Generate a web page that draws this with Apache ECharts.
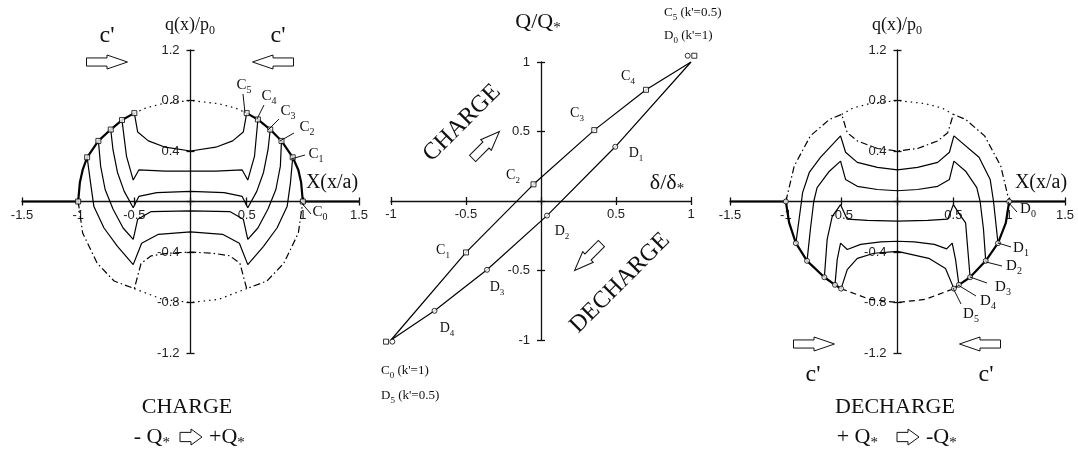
<!DOCTYPE html>
<html>
<head>
<meta charset="utf-8">
<script src="https://cdn.jsdelivr.net/npm/echarts@6/dist/echarts.min.js"></script>
<style>
  html, body { margin: 0; padding: 0; background: #fff; }
  #chart { width: 1078px; height: 455px; }
</style>
</head>
<body>
<div id="chart"></div>
<script>
// ===== 左图 CHARGE : q(x)/p0 - x/a =====
const xTicksWide = [-1.5, 1.5, 0.5];
const yTicksQ = [-1.2, 1.2, 0.4];

const chargeEnvLeft = [[-1.5, 0], [-1, 0], [-0.985, 0.15], [-0.96, 0.25], [-0.92, 0.35], [-0.82, 0.48], [-0.71, 0.57], [-0.61, 0.645], [-0.5, 0.70]];
const chargeEnvRight = [[1.5, 0], [1, 0], [0.985, 0.15], [0.96, 0.25], [0.91, 0.35], [0.81, 0.48], [0.71, 0.57], [0.6, 0.65], [0.5, 0.70]];
const chargeMarks = [[-1, 0], [-0.92, 0.35], [-0.82, 0.48], [-0.71, 0.57], [-0.61, 0.645], [-0.5, 0.70],
  [1, 0], [0.91, 0.35], [0.81, 0.48], [0.71, 0.57], [0.6, 0.65], [0.5, 0.70]];
const chargeTopDotted = [[-0.5, 0.70], [-0.4, 0.74], [-0.25, 0.775], [0, 0.8], [0.25, 0.775], [0.4, 0.74], [0.5, 0.70]];
const chargeBottomDotted = [[-0.5, -0.69], [-0.25, -0.775], [0, -0.8], [0.25, -0.775], [0.5, -0.69]];
const curveC5 = [[-0.5, 0.70], [-0.47, 0.55], [-0.375, 0.48], [-0.225, 0.43], [0, 0.40], [0.225, 0.43], [0.375, 0.48], [0.47, 0.55], [0.5, 0.70]];
const curveC4 = [[-0.61, 0.645], [-0.57, 0.36], [-0.51, 0.17], [-0.46, 0.25], [-0.225, 0.24], [0, 0.24], [0.225, 0.24], [0.46, 0.25], [0.51, 0.17], [0.57, 0.36], [0.6, 0.65]];
const curveC3 = [[-0.71, 0.57], [-0.69, 0.41], [-0.65, 0.23], [-0.59, 0.08], [-0.51, -0.05], [-0.46, 0.04], [-0.3, 0.07], [0, 0.08],
  [0.3, 0.07], [0.46, 0.04], [0.51, -0.05], [0.59, 0.08], [0.65, 0.23], [0.69, 0.41], [0.71, 0.57]];
const curveC2 = [[-0.82, 0.48], [-0.80, 0.28], [-0.76, 0.095], [-0.69, -0.06], [-0.60, -0.21], [-0.51, -0.30], [-0.47, -0.14], [-0.35, -0.08], [0, -0.075],
  [0.35, -0.08], [0.47, -0.14], [0.51, -0.30], [0.60, -0.21], [0.69, -0.06], [0.76, 0.095], [0.80, 0.28], [0.81, 0.48]];
const curveC1 = [[-0.92, 0.35], [-0.89, 0.15], [-0.86, -0.04], [-0.77, -0.21], [-0.65, -0.355], [-0.51, -0.50], [-0.435, -0.33], [-0.285, -0.26], [0, -0.24],
  [0.285, -0.26], [0.435, -0.33], [0.51, -0.50], [0.65, -0.355], [0.77, -0.21], [0.86, -0.04], [0.89, 0.15], [0.91, 0.35]];
const curveC0 = [[-1, 0], [-0.96, -0.25], [-0.83, -0.49], [-0.68, -0.63], [-0.5, -0.69], [-0.44, -0.49], [-0.35, -0.43], [-0.2, -0.41], [0, -0.40],
  [0.2, -0.41], [0.35, -0.43], [0.44, -0.49], [0.5, -0.69], [0.68, -0.63], [0.83, -0.49], [0.96, -0.25], [1, 0]];

// ===== 中图 Q/Q* - δ/δ* =====
const xTicksMid = [-1, 1, 0.5];
const yTicksMid = [-1, 1, 0.5];
const loopCharge = [[-1, -1], [-0.5, -0.37], [-0.05, 0.12], [0.355, 0.51], [0.70, 0.80], [1, 1]];
const loopChargeMarks = [[-0.5, -0.37], [-0.05, 0.12], [0.355, 0.51], [0.70, 0.80], [1.022, 1.045], [-1.033, -1.012]];
const loopDecharge = [[1, 1], [0.495, 0.39], [0.04, -0.105], [-0.36, -0.495], [-0.71, -0.79], [-1, -1]];
const loopDechargeMarks = [[0.495, 0.39], [0.04, -0.105], [-0.36, -0.495], [-0.71, -0.79], [0.978, 1.045], [-0.991, -1.012]];

// ===== 右图 DECHARGE =====
const dechEnvLeft = [[-1.5, 0], [-1, 0], [-0.97, -0.17], [-0.91, -0.33], [-0.81, -0.47], [-0.655, -0.60], [-0.56, -0.66], [-0.505, -0.69]];
const dechEnvRight = [[1.5, 0], [1, 0], [0.97, -0.17], [0.90, -0.33], [0.79, -0.47], [0.65, -0.60], [0.55, -0.66], [0.505, -0.69]];
const dechMarks = [[-1, 0], [-0.91, -0.33], [-0.81, -0.47], [-0.655, -0.60], [-0.56, -0.66], [-0.505, -0.69],
  [1, 0], [0.90, -0.33], [0.79, -0.47], [0.65, -0.60], [0.55, -0.66], [0.505, -0.69]];
const dechTopDotted = [[-0.5, 0.69], [-0.4, 0.74], [-0.25, 0.775], [0, 0.8], [0.25, 0.775], [0.4, 0.74], [0.5, 0.69]];
const dechBottomDashed = [[-0.505, -0.69], [-0.25, -0.775], [0, -0.8], [0.25, -0.775], [0.505, -0.69]];
const curveD0 = [[-1, 0], [-0.925, 0.28], [-0.78, 0.52], [-0.61, 0.65], [-0.5, 0.69], [-0.45, 0.545], [-0.36, 0.48], [-0.18, 0.42], [0, 0.40],
  [0.18, 0.42], [0.36, 0.48], [0.45, 0.545], [0.5, 0.69], [0.61, 0.65], [0.78, 0.52], [0.925, 0.28], [1, 0]];
const curveD1 = [[-0.91, -0.33], [-0.86, 0], [-0.85, 0.07], [-0.79, 0.23], [-0.69, 0.35], [-0.51, 0.52], [-0.465, 0.39], [-0.36, 0.31], [-0.18, 0.27], [0, 0.25],
  [0.18, 0.27], [0.36, 0.31], [0.465, 0.39], [0.505, 0.52], [0.73, 0.35], [0.83, 0.175], [0.86, 0], [0.90, -0.33]];
const curveD2 = [[-0.81, -0.47], [-0.78, -0.22], [-0.75, 0], [-0.72, 0.11], [-0.61, 0.24], [-0.51, 0.32], [-0.465, 0.175], [-0.36, 0.12], [-0.18, 0.095], [0, 0.085],
  [0.18, 0.095], [0.36, 0.12], [0.465, 0.175], [0.505, 0.32], [0.61, 0.24], [0.71, 0.11], [0.74, 0], [0.77, -0.22], [0.79, -0.47]];
const curveD3 = [[-0.655, -0.60], [-0.63, -0.30], [-0.585, -0.12], [-0.51, -0.025], [-0.45, -0.14], [-0.27, -0.15], [0, -0.155],
  [0.27, -0.15], [0.45, -0.14], [0.5, -0.025], [0.57, -0.12], [0.61, -0.17], [0.65, -0.60]];
const curveD4 = [[-0.56, -0.66], [-0.54, -0.46], [-0.51, -0.33], [-0.45, -0.38], [-0.33, -0.34], [-0.15, -0.32], [0, -0.315],
  [0.15, -0.32], [0.33, -0.34], [0.44, -0.375], [0.49, -0.33], [0.52, -0.46], [0.55, -0.66]];
const curveD5 = [[-0.505, -0.69], [-0.45, -0.54], [-0.36, -0.45], [-0.21, -0.41], [0, -0.395], [0.28, -0.45], [0.43, -0.53], [0.505, -0.69]];

const SERIF = '"Liberation Serif", "DejaVu Serif", serif';
const SANS = '"Liberation Sans", Arial, sans-serif';
const INK = '#111';

// 三个坐标系的像素框
const grids = [
  { left: 22, top: 50, width: 337, height: 303 },
  { left: 391, top: 62, width: 300, height: 278 },
  { left: 730, top: 50, width: 335, height: 303 }
];
const gridTicks = [[xTicksWide, yTicksQ], [xTicksMid, yTicksMid], [xTicksWide, yTicksQ]];

const chart = echarts.init(document.getElementById('chart'), null, { renderer: 'canvas' });

// 轴线移到 0 处：用 offset（负值向图内移），一根带标签+外刻度，一根只画内刻度
const hideZero = v => (Math.abs(v) < 1e-9 ? '' : String(+v.toFixed(2)));
function axisPair(dim, gi, margin) {
  const g = grids[gi];
  const ticks = gridTicks[gi][dim === 'x' ? 0 : 1];
  const other = gridTicks[gi][dim === 'x' ? 1 : 0];
  const span = dim === 'x' ? g.height : g.width;
  const offset = -span * (0 - other[0]) / (other[1] - other[0]);
  const base = {
    gridIndex: gi, type: 'value', min: ticks[0], max: ticks[1], interval: ticks[2],
    position: dim === 'x' ? 'bottom' : 'left', offset: offset,
    splitLine: { show: false }
  };
  const tickStyle = { color: INK, width: 1.3 };
  return [
    Object.assign({}, base, {
      axisLine: { show: true, onZero: false, lineStyle: { color: INK, width: 1.3 } },
      axisTick: { show: true, inside: false, length: 4, lineStyle: tickStyle },
      axisLabel: { show: true, margin: margin, formatter: hideZero, color: '#222', fontFamily: SANS, fontSize: 13 }
    }),
    Object.assign({}, base, {
      axisLine: { show: false, onZero: false },
      axisTick: { show: true, inside: true, length: 4, lineStyle: tickStyle },
      axisLabel: { show: false }
    })
  ];
}

function line(gi, data, width, type) {
  return {
    type: 'line', xAxisIndex: gi * 2, yAxisIndex: gi * 2, data: data,
    symbol: 'none', silent: true, animation: false, clip: false, z: 3,
    lineStyle: { color: '#000', width: width, type: type || 'solid' }
  };
}
function marks(gi, data, shape) {
  return {
    type: 'scatter', xAxisIndex: gi * 2, yAxisIndex: gi * 2, data: data,
    symbol: shape, symbolSize: 5, silent: true, animation: false, clip: false, z: 6,
    itemStyle: { color: '#fff', borderColor: '#000', borderWidth: 1 }
  };
}

const DASHDOT = [7, 3, 1.5, 3];
const DOTTED = [1.5, 4];
const DASHED = [6, 4];

// ---- 注释文字 / 箭头 ----
function richText(str, x, y, size, align, rot) {
  return {
    type: 'text', x: x, y: y, rotation: rot || 0, silent: true, z: 20,
    style: {
      text: str, fill: INK, align: align || 'center', verticalAlign: 'middle',
      textAlign: align || 'center', textVerticalAlign: 'middle',
      font: size + 'px ' + SERIF,
      rich: {
        n: { fontSize: size, fontFamily: SERIF, fill: INK, lineHeight: size + 6 },
        s: { fontSize: Math.round(size * 0.66), fontFamily: SERIF, fill: INK, verticalAlign: 'bottom', lineHeight: Math.round(size * 0.66) }
      }
    }
  };
}
function blockArrow(cx, cy, len, h, rot) {
  const hl = len / 2, sh = h * 0.29, hh = h / 2, neck = 0;
  return {
    type: 'polygon', x: cx, y: cy, rotation: rot, silent: true, z: 20,
    shape: { points: [[-hl, -sh], [neck, -sh], [neck, -hh], [hl, 0], [neck, hh], [neck, sh], [-hl, sh]] },
    style: { fill: '#fff', stroke: INK, lineWidth: 1 }
  };
}
function leader(x1, y1, x2, y2) {
  return { type: 'line', silent: true, z: 20, shape: { x1, y1, x2, y2 }, style: { stroke: INK, lineWidth: 1 } };
}

const graphics = [
  // left
  richText('{n|q(x)/p}{s|0}', 190, 25, 18),
  richText("{n|c'}", 107, 36, 24),
  richText("{n|c'}", 278, 36, 24),
  blockArrow(107, 62, 41, 14, 0),
  blockArrow(273, 62, 41, 14, Math.PI),
  richText('{n|X(x/a)}', 332, 183, 20),
  richText('{n|C}{s|5}', 244, 85, 15), leader(245, 113, 243, 94),
  richText('{n|C}{s|4}', 269, 96, 15), leader(257, 119, 264, 105),
  richText('{n|C}{s|3}', 288, 111, 15), leader(268, 130, 279, 119),
  richText('{n|C}{s|2}', 307, 127, 15), leader(280, 141, 294, 133),
  richText('{n|C}{s|1}', 316, 154, 15), leader(291, 159, 305, 155),
  richText('{n|C}{s|0}', 320, 212, 15), leader(300, 201, 311, 214),
  richText('{n|CHARGE}', 187, 407, 22),
  richText('{n|- Q}{s|*}', 170, 437, 22, 'right'),
  blockArrow(191, 437, 22, 16, 0),
  richText('{n|+Q}{s|*}', 209, 437, 22, 'left'),
  // middle
  richText('{n|Q/Q}{s|*}', 538, 22, 22),
  richText('{n|δ/δ}{s|*}', 667, 183, 22),
  richText("{n|C}{s|5}{n| (k'=0.5)}", 664, 13, 13, 'left'),
  richText("{n|D}{s|0}{n| (k'=1)}", 664, 36, 13, 'left'),
  richText("{n|C}{s|0}{n| (k'=1)}", 381, 371, 13, 'left'),
  richText("{n|D}{s|5}{n| (k'=0.5)}", 381, 396, 13, 'left'),
  richText('{n|C}{s|4}', 628, 76, 14),
  richText('{n|C}{s|3}', 577, 113, 14),
  richText('{n|C}{s|2}', 513, 175, 14),
  richText('{n|C}{s|1}', 443, 250, 14),
  richText('{n|D}{s|1}', 636, 153, 14),
  richText('{n|D}{s|2}', 562, 231, 14),
  richText('{n|D}{s|3}', 497, 287, 14),
  richText('{n|D}{s|4}', 447, 328, 14),
  richText('{n|CHARGE}', 462, 123, 24, 'center', Math.PI / 4),
  blockArrow(486, 145, 38, 15, Math.PI / 4),
  richText('{n|DECHARGE}', 620, 283, 24, 'center', Math.PI / 4),
  blockArrow(588, 257, 38, 15, Math.PI * 5 / 4),
  // right
  richText('{n|q(x)/p}{s|0}', 897, 25, 18),
  richText('{n|X(x/a)}', 1041, 183, 20),
  richText('{n|D}{s|0}', 1028, 209, 15), leader(1008, 202, 1017, 212),
  richText('{n|D}{s|1}', 1021, 248, 15), leader(998, 243, 1011, 247),
  richText('{n|D}{s|2}', 1014, 266, 15), leader(986, 262, 1002, 266),
  richText('{n|D}{s|3}', 1003, 287, 15), leader(970, 277, 987, 283),
  richText('{n|D}{s|4}', 988, 301, 15), leader(958, 285, 976, 296),
  richText('{n|D}{s|5}', 971, 314, 15), leader(953, 288, 961, 304),
  blockArrow(814, 344, 41, 14, 0),
  blockArrow(980, 344, 41, 14, Math.PI),
  richText("{n|c'}", 813, 375, 24),
  richText("{n|c'}", 986, 375, 24),
  richText('{n|DECHARGE}', 895, 407, 22),
  richText('{n|+ Q}{s|*}', 878, 437, 22, 'right'),
  blockArrow(908, 437, 22, 16, 0),
  richText('{n|-Q}{s|*}', 926, 437, 22, 'left')
];

const option = {
  animation: false,
  backgroundColor: '#fff',
  grid: grids.map(g => Object.assign({ outerBoundsMode: 'none' }, g)),
  xAxis: [].concat(axisPair('x', 0, 7), axisPair('x', 1, 7), axisPair('x', 2, 7)),
  yAxis: [].concat(axisPair('y', 0, 11), axisPair('y', 1, 11), axisPair('y', 2, 11)),
  series: [
    // left panel
    line(0, chargeEnvLeft, 2.2), line(0, chargeEnvRight, 2.2),
    line(0, chargeTopDotted, 1.2, DOTTED), line(0, chargeBottomDotted, 1.2, DOTTED),
    line(0, curveC5, 1.2), line(0, curveC4, 1.2), line(0, curveC3, 1.2),
    line(0, curveC2, 1.2), line(0, curveC1, 1.2), line(0, curveC0, 1.2, DASHDOT),
    marks(0, chargeMarks, 'rect'),
    // middle panel
    line(1, loopCharge, 1.2), line(1, loopDecharge, 1.2),
    marks(1, loopChargeMarks, 'rect'), marks(1, loopDechargeMarks, 'circle'),
    // right panel
    line(2, dechEnvLeft, 2.2), line(2, dechEnvRight, 2.2),
    line(2, dechTopDotted, 1.2, DOTTED), line(2, dechBottomDashed, 1.2, DASHED),
    line(2, curveD0, 1.2, DASHDOT),
    line(2, curveD1, 1.2), line(2, curveD2, 1.2), line(2, curveD3, 1.2),
    line(2, curveD4, 1.2), line(2, curveD5, 1.2),
    marks(2, dechMarks, 'circle')
  ],
  graphic: { elements: graphics }
};
chart.setOption(option);
</script>
</body>
</html>
